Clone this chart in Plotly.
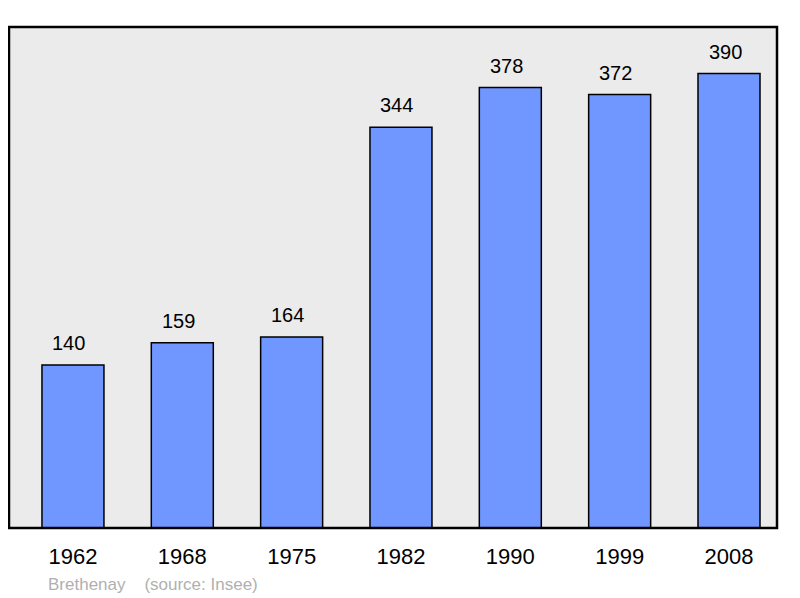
import plotly.graph_objects as go

years = ["1962", "1968", "1975", "1982", "1990", "1999", "2008"]
population = [140, 159, 164, 344, 378, 372, 390]
source_text = "Brethenay    (source: Insee)"

fig = go.Figure()
fig.add_trace(go.Bar(
    x=years, y=population,
    marker=dict(color="#7096FF", line=dict(color="black", width=1.5)),
    width=0.567,
    hoverinfo="skip",
))

for i, v in enumerate(population):
    fig.add_annotation(x=i, y=v, text=str(v), showarrow=False, yanchor="bottom",
                       yshift=9, xshift=-4,
                       font=dict(family="Liberation Sans, Arial", size=20, color="black"))

fig.add_annotation(xref="paper", yref="paper", x=37/768, y=0, xanchor="left",
                   yanchor="top", yshift=-45, text=source_text, showarrow=False,
                   font=dict(family="Liberation Sans, Arial", size=17, color="#B0B0B0"))

fig.add_shape(type="rect", xref="paper", yref="paper", x0=0, y0=0, x1=1, y1=1,
              line=dict(color="black", width=2.5), layer="above")

fig.update_layout(
    width=800, height=598,
    margin=dict(l=1, r=31, t=19, b=78, autoexpand=False),
    paper_bgcolor="white", plot_bgcolor="#EBEBEB",
    showlegend=False,
    font=dict(family="Liberation Sans, Arial", color="black"),
    xaxis=dict(type="category", range=[-0.585, 6.439], showgrid=False, zeroline=False,
               ticks="outside", ticklen=9,
               tickcolor="rgba(0,0,0,0)", tickfont=dict(size=22), showline=False,
               automargin=False),
    yaxis=dict(range=[0, 430], showgrid=False, zeroline=False, showticklabels=False,
               showline=False, automargin=False),
)

fig.write_html("out.html")
